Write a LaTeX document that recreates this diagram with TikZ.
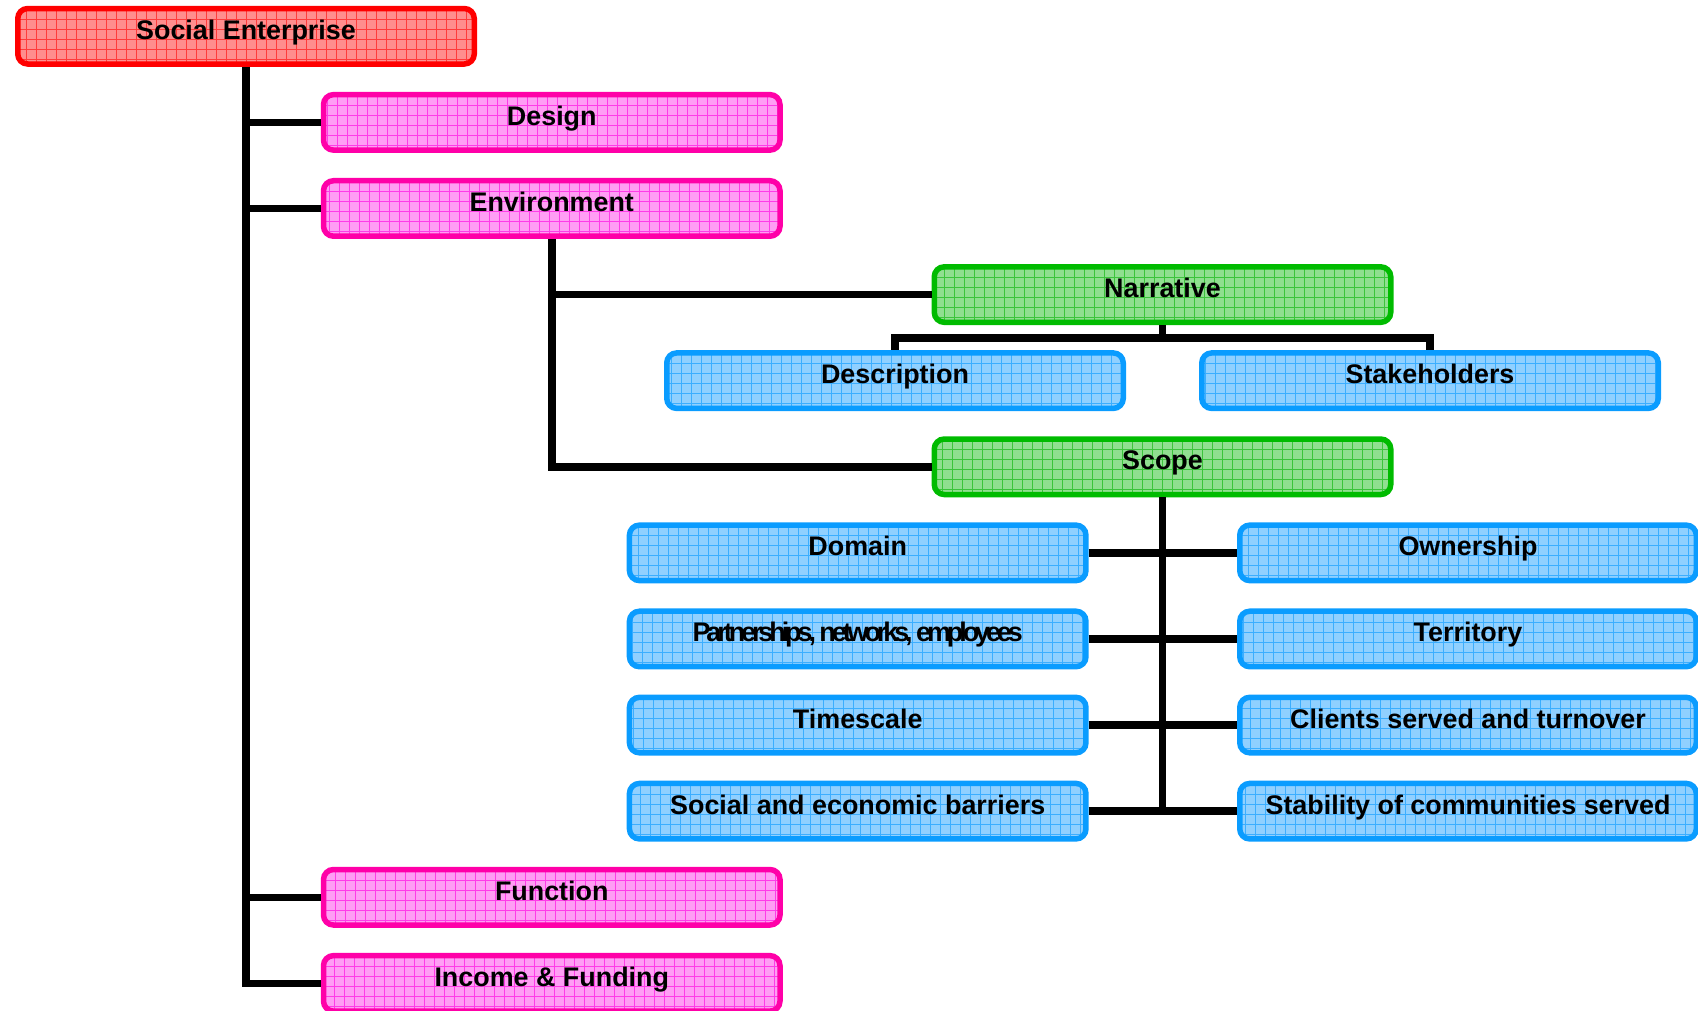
\documentclass[tikz,border=0pt]{standalone}
\usepackage{fontspec}
\usepackage{graphicx}
\setmainfont{Liberation Sans}
\definecolor{redline}{HTML}{FF0000}
\definecolor{redfill}{HTML}{FF8E8E}
\definecolor{redgrid}{HTML}{FF3C3C}
\definecolor{pinkline}{HTML}{FF00A8}
\definecolor{pinkfill}{HTML}{FF9EF4}
\definecolor{pinkgrid}{HTML}{FF3CE8}
\definecolor{greenline}{HTML}{00BB00}
\definecolor{greenfill}{HTML}{90DF90}
\definecolor{greengrid}{HTML}{3CC43C}
\definecolor{blueline}{HTML}{0A9CFF}
\definecolor{bluefill}{HTML}{90D0FF}
\definecolor{bluegrid}{HTML}{3CAEFF}
\tikzset{
  tbox/.style={rectangle, rounded corners=0.1cm, line width=0.055cm,
    minimum width=4.565cm, minimum height=0.555cm, inner sep=0pt,
    text height=0.3075cm, text depth=0.2475cm,
    font=\bfseries\fontsize{7.65}{9}\selectfont},
  gridfill/.style={path picture={
    \draw[#1, line width=0.22pt]
      ([shift={(-0.2,-0.2)}]path picture bounding box.south west)
      grid[step=0.1cm] (path picture bounding box.north east);}},
  redbox/.style={tbox, draw=redline, fill=redfill, gridfill=redgrid},
  pinkbox/.style={tbox, draw=pinkline, fill=pinkfill, gridfill=pinkgrid},
  greenbox/.style={tbox, draw=greenline, fill=greenfill, gridfill=greengrid},
  bluebox/.style={tbox, draw=blueline, fill=bluefill, gridfill=bluegrid},
  link/.style={draw=black, line width=0.075cm}
}
\begin{document}
\begin{tikzpicture}
\useasboundingbox (0,0) rectangle (16.98,-10.10);
\clip (0,0) rectangle (16.98,-10.10);

% root
\node[redbox] (se) at (2.46,-0.3625) {Social Enterprise};

% first level
\node[pinkbox] (des) at (5.5175,-1.2235) {Design};
\node[pinkbox] (env) at (5.5175,-2.0845) {Environment};
\node[pinkbox] (fun) at (5.5175,-8.9725) {Function};
\node[pinkbox] (inc) at (5.5175,-9.8335) {Income \& Funding};

% environment branches
\node[greenbox] (nar) at (11.625,-2.9455) {Narrative};
\node[greenbox] (sco) at (11.625,-4.6675) {Scope};

% narrative children
\node[bluebox] (dsc) at (8.95,-3.8065) {Description};
\node[bluebox] (stk) at (14.30,-3.8065) {Stakeholders};

% scope children
\node[bluebox] (dom) at (8.577,-5.5285) {Domain};
\node[bluebox] (par) at (8.577,-6.3895) {\addfontfeature{LetterSpace=-15}Partnerships, networks, employees};
\node[bluebox] (tim) at (8.577,-7.2505) {Timescale};
\node[bluebox] (soc) at (8.577,-8.1115) {Social and economic barriers};
\node[bluebox] (own) at (14.68,-5.5285) {Ownership};
\node[bluebox] (ter) at (14.68,-6.3895) {Territory};
\node[bluebox] (cli) at (14.68,-7.2505) {Clients served and turnover};
\node[bluebox] (sta) at (14.68,-8.1115) {Stability of communities served};

% trunk from the root
\draw[link] (se.south) -- (se.south |- inc.west) -- (inc.west);
\draw[link] (se.south |- des.west) -- (des.west);
\draw[link] (se.south |- env.west) -- (env.west);
\draw[link] (se.south |- fun.west) -- (fun.west);

% environment
\draw[link] (env.south) |- (sco.west);
\draw[link] (env.south |- nar.west) -- (nar.west);

% narrative bus
\draw[link] (nar.south) -- ([yshift=-0.13cm]nar.south) -| (dsc.north);
\draw[link] ([yshift=-0.13cm]nar.south) -| (stk.north);

% scope spine and rows
\draw[link] (sco.south) -- (sco.south |- soc.east);
\draw[link] (dom.east) -- (own.west);
\draw[link] (par.east) -- (ter.west);
\draw[link] (tim.east) -- (cli.west);
\draw[link] (soc.east) -- (sta.west);
\end{tikzpicture}
\end{document}
